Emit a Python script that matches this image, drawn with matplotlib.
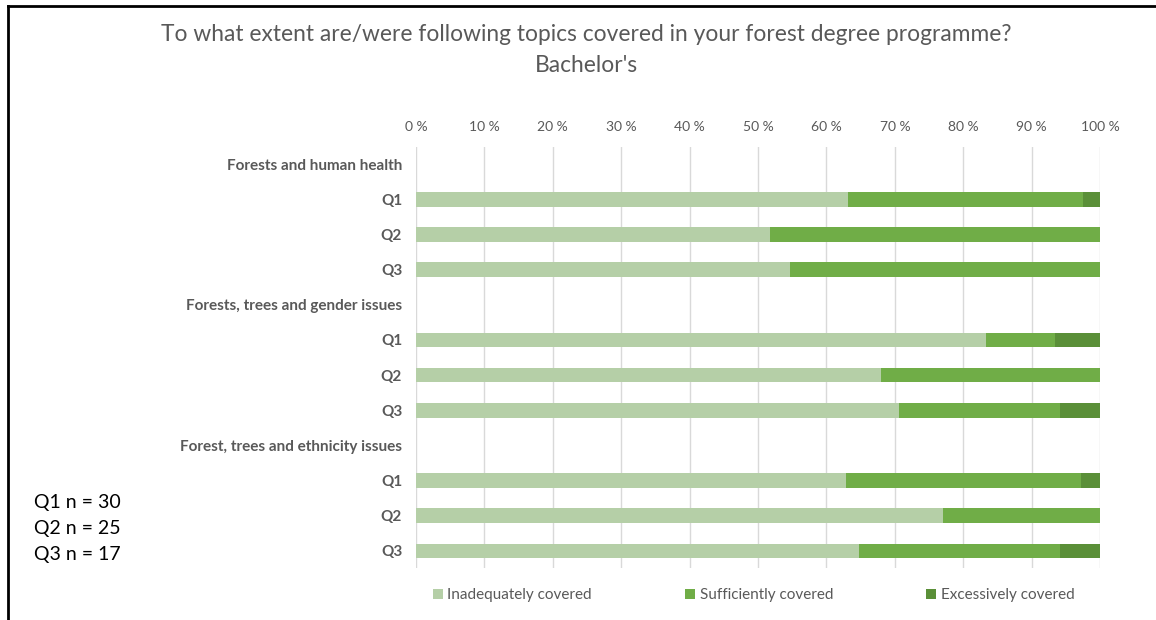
import matplotlib
matplotlib.use("Agg")
import matplotlib.pyplot as plt
from matplotlib.lines import Line2D
from matplotlib.patches import Patch
import numpy as np

plt.rcParams['font.family'] = ['Lato', 'DejaVu Sans']

# data (percent of respondents)
topics = ["Forests and human health",
          "Forests, trees and gender issues",
          "Forest, trees and ethnicity issues"]
questions = ["Q1", "Q2", "Q3"]
inadequate = [63.2, 51.7, 54.7, 83.3, 68.0, 70.6, 62.9, 77.0, 64.8]
sufficient = [34.3, 48.3, 45.3, 10.1, 32.0, 23.5, 34.3, 23.0, 29.3]
excessive = [2.5, 0.0, 0.0, 6.6, 0.0, 5.9, 2.8, 0.0, 5.9]
series_names = ["Inadequately covered", "Sufficiently covered", "Excessively covered"]
sample_sizes = ["Q1 n = 30", "Q2 n = 25", "Q3 n = 17"]
xticks = np.arange(0, 101, 10)

colors = ['#B5CFA7', '#70AD47', '#5A8F38']
grey = '#595959'

fig = plt.figure(figsize=(11.56, 6.2), dpi=100)
ax = fig.add_axes([0.3599, 0.0831, 0.5917, 0.6806])

# row layout: topic header followed by its questions
labels = []
bar_rows = []
row = 0
for t in topics:
    labels.append(t)
    row += 1
    for q in questions:
        labels.append(q)
        bar_rows.append(row)
        row += 1
bar_rows = np.array(bar_rows)

left = np.zeros(len(bar_rows))
for vals, c in zip([inadequate, sufficient, excessive], colors):
    ax.barh(bar_rows, vals, left=left, height=0.42, color=c, zorder=3)
    left += np.array(vals)

ax.set_xlim(0, 100)
ax.set_ylim(len(labels) - 0.5, -0.5)
ax.set_yticks(range(len(labels)))
ax.set_yticklabels(labels, fontsize=11, fontweight='bold', color=grey)
ax.set_xticks(xticks)
ax.set_xticklabels([f"{v} %" for v in xticks], fontsize=10, color=grey)
ax.xaxis.tick_top()
ax.tick_params(axis='both', length=0)
ax.tick_params(axis='x', pad=9.5)
ax.tick_params(axis='y', pad=10)
ax.grid(axis='x', color='#D9D9D9', linewidth=1, zorder=0)
for s in ax.spines.values():
    s.set_visible(False)

fig.text(0.507, 0.945, "To what extent are/were following topics covered in your forest degree programme?",
         ha='center', va='center', fontsize=16.4, color=grey)
fig.text(0.507, 0.895, "Bachelor's", ha='center', va='center', fontsize=16.4, color=grey)

handles = [Patch(facecolor=c, label=n) for c, n in zip(colors, series_names)]
fig.legend(handles=handles, loc='center', bbox_to_anchor=(0.652, 0.04), ncol=3,
           frameon=False, fontsize=11, labelcolor=grey, handlelength=0.65, handleheight=0.65,
           handletextpad=0.3, columnspacing=6.1)

for i, s in enumerate(sample_sizes):
    fig.text(0.029, 0.19 - i * 0.0425, s, ha='left', va='center', fontsize=14, color='black')

# frame lines of the screenshot
fig.add_artist(Line2D([0.007, 1.0], [0.99, 0.99], color='black', linewidth=2))
fig.add_artist(Line2D([0.007, 0.007], [0.0, 0.99], color='black', linewidth=2))

fig.savefig("out.png", dpi=100)
